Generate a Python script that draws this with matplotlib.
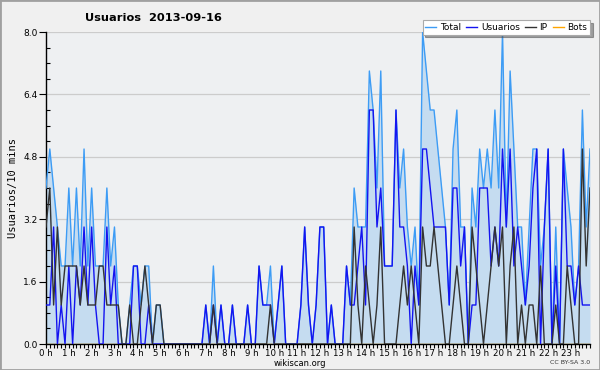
import matplotlib
matplotlib.use("Agg")
import matplotlib.pyplot as plt
from matplotlib.ticker import MultipleLocator, FixedLocator
from matplotlib.patches import Rectangle
import numpy as np

title = "Usuarios  2013-09-16"
hour_labels = [f"{h} h" for h in range(24)]

usuarios = [1, 1, 3, 0, 1, 0, 2, 0, 2, 1, 3, 1, 3, 1, 0, 0, 3, 1, 2, 0,
            0, 0, 0, 2, 2, 0, 0, 1, 0, 0, 0, 0, 0, 0, 0, 0, 0, 0, 0, 0,
            0, 0, 1, 0, 1, 0, 1, 0, 0, 1, 0, 0, 0, 1, 0, 0, 2, 1, 1, 1,
            0, 1, 2, 0, 0, 0, 0, 1, 3, 1, 0, 1, 3, 3, 0, 1, 0, 0, 0, 2,
            1, 1, 2, 3, 1, 6, 6, 3, 4, 2, 2, 2, 6, 3, 3, 2, 0, 2, 1, 5,
            5, 4, 3, 3, 3, 3, 1, 4, 4, 2, 3, 0, 1, 1, 4, 4, 4, 2, 3, 2,
            5, 3, 5, 2, 3, 2, 1, 2, 4, 5, 0, 3, 5, 0, 2, 0, 5, 2, 2, 1,
            2, 1, 1, 1]

ip = [3, 4, 1, 3, 1, 2, 2, 2, 2, 1, 2, 1, 1, 1, 2, 2, 1, 1, 1, 1,
      0, 0, 1, 0, 0, 1, 2, 1, 0, 1, 1, 0, 0, 0, 0, 0, 0, 0, 0, 0,
      0, 0, 0, 0, 1, 0, 0, 0, 0, 0, 0, 0, 0, 0, 0, 0, 0, 0, 0, 1,
      0, 0, 0, 0, 0, 0, 0, 0, 0, 0, 0, 0, 0, 0, 0, 0, 0, 0, 0, 0,
      0, 3, 1, 0, 2, 1, 0, 1, 3, 0, 0, 0, 0, 1, 2, 1, 2, 1, 0, 3,
      2, 2, 3, 2, 1, 0, 0, 1, 2, 1, 0, 0, 3, 2, 1, 0, 1, 2, 3, 2,
      3, 0, 2, 3, 0, 1, 0, 1, 1, 0, 2, 0, 0, 0, 1, 0, 0, 2, 1, 0,
      0, 5, 2, 4]

total = [4, 5, 4, 3, 2, 2, 4, 2, 4, 2, 5, 2, 4, 2, 2, 2, 4, 2, 3, 1,
         0, 0, 1, 2, 2, 1, 2, 2, 0, 1, 1, 0, 0, 0, 0, 0, 0, 0, 0, 0,
         0, 0, 1, 0, 2, 0, 1, 0, 0, 1, 0, 0, 0, 1, 0, 0, 2, 1, 1, 2,
         0, 1, 2, 0, 0, 0, 0, 1, 3, 1, 0, 1, 3, 3, 0, 1, 0, 0, 0, 2,
         1, 4, 3, 3, 3, 7, 6, 4, 7, 2, 2, 2, 6, 4, 5, 3, 2, 3, 1, 8,
         7, 6, 6, 5, 4, 3, 1, 5, 6, 3, 3, 0, 4, 3, 5, 4, 5, 4, 6, 4,
         8, 3, 7, 5, 3, 3, 1, 3, 5, 5, 2, 3, 5, 0, 3, 0, 5, 4, 3, 1,
         2, 6, 3, 5]

bots = [0] * 144

x = np.arange(len(total))

c_total = "#3d9cf5"
c_user = "#1414f0"
c_ip = "#333333"
c_bots = "#ffa500"

fig = plt.figure(figsize=(6.0, 3.7), dpi=100, facecolor="#f0f0f0")
ax = fig.add_axes([46/600, 1-344/370, 544/600, 312/370])
ax.set_facecolor("#eef0f2")

ax.fill_between(x, total, 0, color="#c5dcf0", lw=0, zorder=1)
for yv in [1.6, 3.2, 4.8, 6.4, 8.0]:
    ax.axhline(yv, color="#cccccc", lw=0.9, zorder=0.5)
ax.plot(x, total, color=c_total, lw=1.0, label="Total", zorder=3)
ax.plot(x, usuarios, color=c_user, lw=1.0, label="Usuarios", zorder=4)
ax.plot(x, ip, color=c_ip, lw=1.0, label="IP", zorder=5)
ax.plot(x, bots, color=c_bots, lw=1.0, label="Bots", zorder=2)

ax.set_xlim(0, 143)
ax.set_ylim(0, 8.0)
for s in ["top", "right"]:
    ax.spines[s].set_visible(False)
ax.spines["left"].set_linewidth(1.0)
ax.spines["bottom"].set_linewidth(1.0)

ax.yaxis.set_major_locator(FixedLocator([0, 1.6, 3.2, 4.8, 6.4, 8.0]))
ax.set_yticklabels(["0.0", "1.6", "3.2", "4.8", "6.4", "8.0"])
ax.yaxis.set_minor_locator(MultipleLocator(0.4))
ax.tick_params(axis="y", which="major", direction="out", length=5, width=0.8,
               labelsize=6.5, pad=1, colors="#000000")
ax.tick_params(axis="y", which="minor", direction="in", length=3, width=0.8)

ax.xaxis.set_major_locator(FixedLocator(list(range(0, 144, 6))))
ax.set_xticklabels(hour_labels)
ax.xaxis.set_minor_locator(MultipleLocator(1))
ax.tick_params(axis="x", which="major", direction="out", length=3, width=0.8,
               labelsize=6.2, pad=0.5)
ax.tick_params(axis="x", which="minor", direction="out", length=3, width=0.8)

ax.set_ylabel("Usuarios/10 mins", fontfamily="DejaVu Sans Mono", fontsize=7.5, labelpad=4)

fig.text(85/600, 1-18/370, title, fontsize=8.2, fontweight="bold", ha="left", va="center")

leg = ax.legend(loc="upper right", bbox_to_anchor=(1.0, 1.038), ncol=4, fontsize=6.5,
                frameon=True, fancybox=False, shadow=True, handlelength=1.2,
                handletextpad=0.4, columnspacing=0.6, borderpad=0.3,
                borderaxespad=0.0)
leg.get_frame().set_edgecolor("#aaaaaa")
leg.get_frame().set_facecolor("#ffffff")
leg.get_frame().set_linewidth(0.8)
leg.set_zorder(10)

fig.text(300/600, 1-363/370, "wikiscan.org", fontsize=6, ha="center", va="center")
fig.text(590/600, 1-363/370, "CC BY-SA 3.0", fontsize=4.5, ha="right", va="center", color="#333333")

fig.patches.append(Rectangle((0, 0), 1, 1, transform=fig.transFigure, fill=False,
                             edgecolor="#a0a0a0", lw=2, zorder=20))

fig.savefig("out.png", dpi=100, facecolor=fig.get_facecolor())
